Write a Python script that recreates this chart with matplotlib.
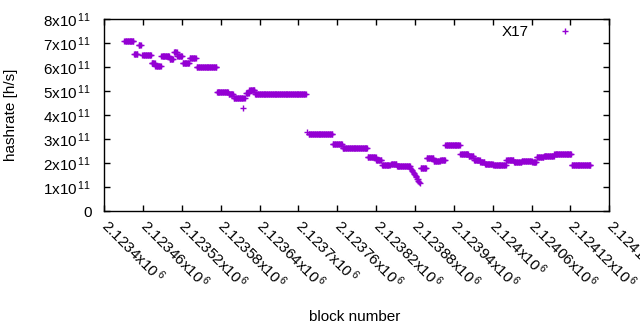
import numpy as np
import matplotlib
matplotlib.use('Agg')
import matplotlib.pyplot as plt
from matplotlib.ticker import FuncFormatter

plt.rcParams['font.family'] = ['Liberation Sans', 'DejaVu Sans']
plt.rcParams['mathtext.fontset'] = 'custom'
plt.rcParams['mathtext.rm'] = 'Liberation Sans'
plt.rcParams['mathtext.default'] = 'regular'

# runs of blocks that share one hashrate value (x1e11 h/s)
seg_start = [2123431, 2123446, 2123453, 2123459, 2123473, 2123479, 2123488, 2123501,
             2123508, 2123513, 2123521, 2123532, 2123543, 2123574, 2123592, 2123600,
             2123619, 2123624, 2123633, 2123716, 2123753, 2123768, 2123807, 2123820,
             2123829, 2123843, 2123852, 2123889, 2123898, 2123909, 2123919, 2123927,
             2123950, 2123963, 2123971, 2123981, 2123988, 2124001, 2124021, 2124033,
             2124045, 2124061, 2124068, 2124079, 2124095, 2124122, 2124137]
seg_end = [2123445, 2123451, 2123456, 2123472, 2123478, 2123487, 2123500, 2123506,
           2123512, 2123520, 2123531, 2123541, 2123573, 2123591, 2123599, 2123614,
           2123623, 2123632, 2123711, 2123752, 2123767, 2123806, 2123819, 2123828,
           2123841, 2123851, 2123872, 2123897, 2123908, 2123918, 2123926, 2123949,
           2123962, 2123970, 2123980, 2123987, 2124000, 2124020, 2124032, 2124044,
           2124060, 2124067, 2124078, 2124094, 2124121, 2124136, 2124151]
seg_value = [7.08, 6.55, 6.93, 6.51, 6.20, 6.05, 6.46, 6.34,
             6.62, 6.47, 6.16, 6.37, 6.00, 4.96, 4.87, 4.73,
             4.95, 5.07, 4.89, 3.21, 2.79, 2.62, 2.26, 2.12,
             1.93, 1.98, 1.87, 1.82, 2.22, 2.10, 2.14, 2.75,
             2.40, 2.29, 2.15, 2.05, 1.98, 1.93, 2.12, 2.04,
             2.09, 2.04, 2.26, 2.29, 2.40, 1.95, 1.91]

# single blocks (outliers and the dip around 2.12388e6)
single_block = [2123615, 2123616, 2123617, 2123713,
                2123873, 2123874, 2123875, 2123876, 2123877, 2123878, 2123879, 2123880,
                2123881, 2123882, 2123883, 2123884, 2123885, 2123886, 2123887]
single_value = [4.32, 4.73, 4.73, 3.30,
                1.80, 1.76, 1.72, 1.70, 1.64, 1.60, 1.55, 1.50,
                1.47, 1.42, 1.36, 1.33, 1.27, 1.22, 1.18]

blocks = []
values = []
for s, e, v in zip(seg_start, seg_end, seg_value):
    for b in range(s, e + 1):
        blocks.append(b)
        values.append(v * 1e11)
for b, v in zip(single_block, single_value):
    blocks.append(b)
    values.append(v * 1e11)

fig = plt.figure(figsize=(6.4, 3.3), dpi=100)
ax = fig.add_axes([104.25 / 640, 1 - 211.3 / 330, 505 / 640, 192 / 330])

ax.plot(blocks, values, '+', color='#9400D3', ms=5, mew=1.0, linestyle='none', label='X17')

ax.set_xlim(2123400, 2124180)
ax.set_ylim(0, 8e11)
ax.set_xticks(np.arange(2123400, 2124181, 60))
ax.set_yticks(np.arange(0, 8.01e11, 1e11))


def xfmt(v, pos):
    return r'%sx10$^{\,6}$' % ('%g' % (v / 1e6))


def yfmt(v, pos):
    n = int(round(v / 1e11))
    if n == 0:
        return '0'
    return r'%dx10$^{\,11}$' % n


ax.xaxis.set_major_formatter(FuncFormatter(xfmt))
ax.yaxis.set_major_formatter(FuncFormatter(yfmt))
ax.tick_params(direction='in', length=4, width=1, top=True, right=True,
               labelsize=11, colors='black')
ax.tick_params(axis='y', pad=9)
ax.tick_params(axis='x', pad=8)
for lab in ax.get_xticklabels():
    lab.set_rotation(-45)
    lab.set_rotation_mode('anchor')
    lab.set_ha('left')
    lab.set_va('center')
for sp in ax.spines.values():
    sp.set_linewidth(1)

ax.set_xlabel('block number', fontsize=11)
ax.xaxis.set_label_coords(0.495, -0.515)
ax.set_ylabel('hashrate [h/s]', fontsize=11)
ax.yaxis.set_label_coords(-0.171, 0.5)

ax.legend(loc='upper right', bbox_to_anchor=(0.955, 1.0), frameon=False,
          markerfirst=False, handletextpad=1.4, handlelength=2, fontsize=11,
          borderaxespad=0)

fig.savefig('out.png', dpi=100)
